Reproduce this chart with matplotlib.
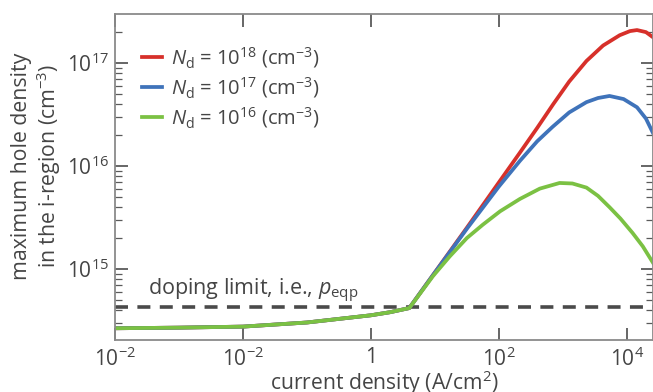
import matplotlib

matplotlib.use("Agg")
import matplotlib.pyplot as plt
from matplotlib.ticker import FixedLocator, LogLocator, NullFormatter, NullLocator

plt.rcParams["font.family"] = ["Open Sans", "DejaVu Sans"]
plt.rcParams["mathtext.fontset"] = "custom"
plt.rcParams["mathtext.rm"] = "Open Sans"
plt.rcParams["mathtext.it"] = "Open Sans:italic"
plt.rcParams["mathtext.bf"] = "Open Sans:bold"

# log10 of current density (A/cm^2) and log10 of max hole density (cm^-3)
red_logj = [-4, -3, -2, -1, 0, 0.3, 0.6, 0.97, 1.5, 2.0, 2.33, 2.6, 2.85, 3.1, 3.37,
            3.63, 3.89, 4.05, 4.16, 4.3, 4.41]
red_logp = [14.424, 14.43, 14.44, 14.48, 14.55, 14.58, 14.62, 14.94, 15.40, 15.84, 16.13,
            16.37, 16.60, 16.82, 17.02, 17.17, 17.27, 17.31, 17.32, 17.30, 17.25]

blue_logj = [-4, -3, -2, -1, 0, 0.3, 0.6, 0.97, 1.5, 2.0, 2.33, 2.6, 2.84, 3.1, 3.37,
             3.55, 3.73, 3.95, 4.16, 4.3, 4.41]
blue_logp = [14.424, 14.43, 14.44, 14.48, 14.55, 14.58, 14.62, 14.94, 15.39, 15.80, 16.05,
             16.24, 16.38, 16.52, 16.62, 16.66, 16.68, 16.65, 16.57, 16.46, 16.32]

green_logj = [-4, -3, -2, -1, 0, 0.3, 0.6, 0.97, 1.23, 1.5, 1.75, 2.02, 2.33, 2.64, 2.95,
              3.15, 3.37, 3.55, 3.73, 3.9, 4.09, 4.25, 4.41]
green_logp = [14.424, 14.43, 14.44, 14.48, 14.55, 14.58, 14.62, 14.93, 15.12, 15.30, 15.43,
              15.56, 15.68, 15.78, 15.835, 15.83, 15.79, 15.71, 15.60, 15.49, 15.35, 15.22, 15.06]

doping_limit = 4.3e14

series = [
    (red_logj, red_logp, "#d7302a", 18),
    (blue_logj, blue_logp, "#3f73ba", 17),
    (green_logj, green_logp, "#7bc143", 16),
]

x_ticks = [1e-4, 1e-2, 1, 1e2, 1e4]
x_ticklabels = [r"10$^{−2}$", r"10$^{−2}$", "1", r"10$^{2}$", r"10$^{4}$"]
y_ticks = [1e15, 1e16, 1e17]
y_ticklabels = [r"10$^{15}$", r"10$^{16}$", r"10$^{17}$"]

TEXT = "#454545"
SPINE = "#8a8a8a"

fig = plt.figure(figsize=(6.53, 3.92), dpi=100)
ax = fig.add_axes([115 / 653, 52 / 392, 1 - 115 / 653, 326 / 392])

for logj, logp, color, nd in series:
    ax.plot([10 ** v for v in logj], [10 ** v for v in logp], color=color, lw=2.7,
            solid_joinstyle="round",
            label=r"$N_\mathrm{d}$ = 10$^{%d}$ (cm$^{−3}$)" % nd)

ax.axhline(doping_limit, color="#4a4a4a", lw=2.6, dashes=(3.6, 2.6), zorder=1)
ax.text(3.3e-4, 6.1e14, r"doping limit, i.e., $p_\mathrm{eqp}$", fontsize=15.5,
        color=TEXT, va="center", ha="left")

ax.set_xscale("log")
ax.set_yscale("log")
ax.set_xlim(1e-4, 10 ** 4.41)
ax.set_ylim(10 ** 14.31, 10 ** 17.476)

ax.xaxis.set_major_locator(FixedLocator(x_ticks))
ax.set_xticklabels(x_ticklabels)
ax.xaxis.set_minor_locator(NullLocator())
ax.yaxis.set_major_locator(FixedLocator(y_ticks))
ax.set_yticklabels(y_ticklabels)
ax.yaxis.set_minor_locator(LogLocator(base=10, subs=range(2, 10)))
ax.yaxis.set_minor_formatter(NullFormatter())

ax.tick_params(which="both", direction="in", top=True, right=True, color="#5a5a5a",
               labelcolor=TEXT, labelsize=15)
ax.tick_params(which="major", length=9, width=1.3)
ax.tick_params(which="minor", length=5, width=0.9)
ax.tick_params(axis="x", pad=5)
ax.tick_params(axis="y", pad=4)

for s in ax.spines.values():
    s.set_color(SPINE)
    s.set_linewidth(1.3)

ax.set_xlabel("current density (A/cm$^{2}$)", fontsize=15.2, color=TEXT, labelpad=-1.5)
fig.text(37 / 653, 1 - 166 / 392, "maximum hole density\nin the i-region (cm$^{−3}$)",
         fontsize=15.3, color=TEXT, rotation=90, ha="center", va="center",
         multialignment="center", linespacing=1.15)

leg = ax.legend(loc="upper left", bbox_to_anchor=(0.035, 0.93), frameon=False,
                fontsize=14.5, handlelength=1.0, handletextpad=0.45, labelspacing=0.25,
                borderaxespad=0)
for t in leg.get_texts():
    t.set_color(TEXT)

fig.savefig("out.png", dpi=100)
